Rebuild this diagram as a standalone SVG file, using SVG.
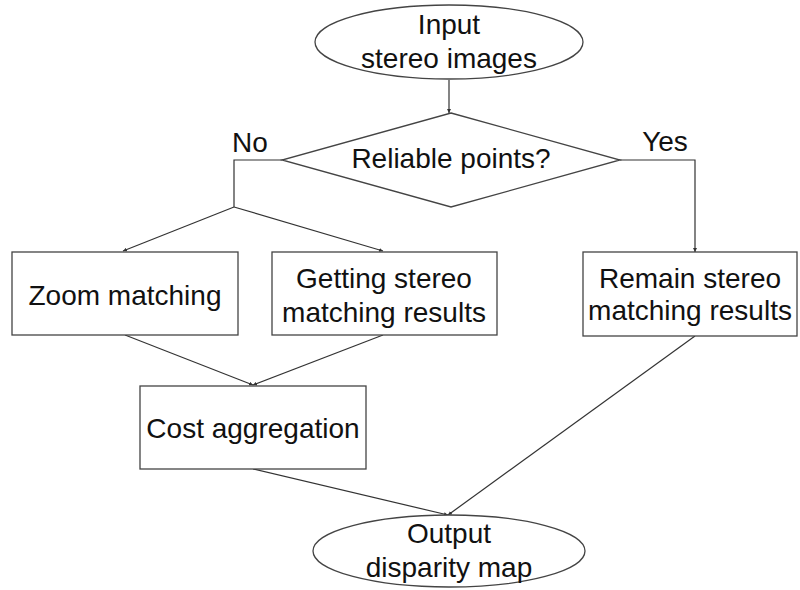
<svg xmlns="http://www.w3.org/2000/svg" width="800" height="590" viewBox="0 0 800 590">
<defs>
<style>
.s{fill:#fff;stroke:#444;stroke-width:1.3}
.c{fill:none;stroke:#333;stroke-width:1.2}
text{font-family:"Liberation Sans",Arial,sans-serif;font-size:28px;fill:#111;text-anchor:middle}
</style>
<marker id="a" viewBox="0 0 6 6" refX="6" refY="3" markerWidth="4" markerHeight="4" orient="auto" markerUnits="userSpaceOnUse">
<path d="M0,0L6,3L0,6z" fill="#333"/>
</marker>
</defs>
<rect width="800" height="590" fill="#fff"/>
<g id="connectors">
<path class="c" d="M449,80V113" marker-end="url(#a)"/>
<path class="c" d="M282,160H234V207"/>
<path class="c" d="M234,207L123,251" marker-end="url(#a)"/>
<path class="c" d="M234,207L383,251" marker-end="url(#a)"/>
<path class="c" d="M620,160H695V252" marker-end="url(#a)"/>
<path class="c" d="M125,335L253,385" marker-end="url(#a)"/>
<path class="c" d="M383,335L253,385" marker-end="url(#a)"/>
<path class="c" d="M253,469L448,515" marker-end="url(#a)"/>
<path class="c" d="M695,336L448,515" marker-end="url(#a)"/>
<text x="250" y="152">No</text>
<text x="665" y="151">Yes</text>
</g>
<g id="input">
<ellipse class="s" cx="449" cy="42" rx="134" ry="37"/>
<text x="449" y="34">Input</text>
<text x="449" y="68">stereo images</text>
</g>
<g id="decision">
<path class="s" d="M451,113L620,160L451,207L282,160Z"/>
<text x="451" y="168">Reliable points?</text>
</g>
<g id="zoom">
<rect class="s" x="12" y="252" width="226" height="83"/>
<text x="125" y="305">Zoom matching</text>
</g>
<g id="getting">
<rect class="s" x="272" y="252" width="225" height="83"/>
<text x="384" y="288">Getting stereo</text>
<text x="384" y="322">matching results</text>
</g>
<g id="remain">
<rect class="s" x="583" y="252" width="214" height="84"/>
<text x="690" y="288">Remain stereo</text>
<text x="690" y="320">matching results</text>
</g>
<g id="cost">
<rect class="s" x="140" y="386" width="226" height="83"/>
<text x="253" y="438">Cost aggregation</text>
</g>
<g id="output">
<ellipse class="s" cx="449" cy="551" rx="136" ry="36"/>
<text x="449" y="543">Output</text>
<text x="449" y="577">disparity map</text>
</g>
</svg>
